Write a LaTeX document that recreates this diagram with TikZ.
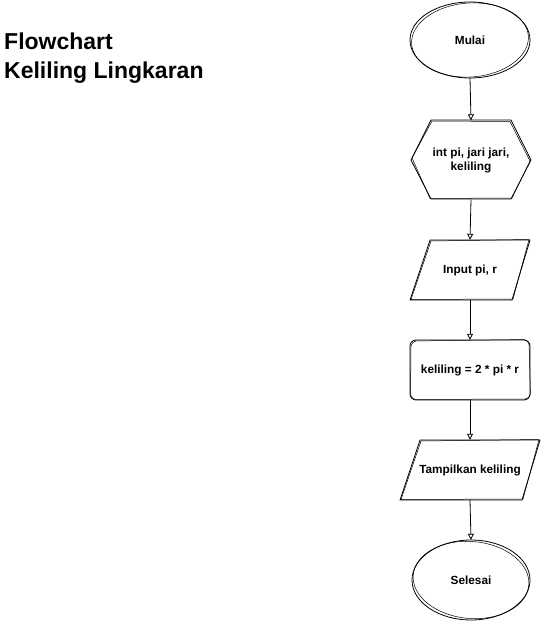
\documentclass[tikz,border=0pt]{standalone}
\usepackage{fontspec}
\setmainfont{Liberation Sans}
\usetikzlibrary{arrows.meta}
\begin{document}
\begin{tikzpicture}[x=1pt,y=-1pt,
  sk/.style={draw=black, line width=0.8pt, line join=round, line cap=round},
  sk2/.style={draw=black, line width=0.5pt, line join=round, line cap=round},
  lbl/.style={draw=none, inner sep=0pt, align=center, minimum width=120pt,
    font=\fontsize{11.8}{14}\selectfont\bfseries},
  arr/.style={draw=black, line width=0.8pt, -{Triangle[open, length=6pt, width=6pt]}},
  title/.style={anchor=north west, align=left, inner sep=0pt,
    font=\fontsize{23}{29}\selectfont\bfseries}
]
\useasboundingbox (0,0) rectangle (541,621);

% title
\node[title] (t) at (4,33) {Flowchart\\Keliling Lingkaran};

% nodes (text + anchors)
\node[lbl, minimum height=76pt] (mulai) at (470,40) {Mulai};
\node[lbl, minimum height=79pt] (decl) at (471,160) {int pi, jari jari,\\keliling};
\node[lbl, minimum height=60pt] (inp) at (470,270) {Input pi, r};
\node[lbl, minimum height=60pt] (proc) at (470,370) {keliling = 2 * pi * r};
\node[lbl, minimum height=60pt] (out) at (470,470) {Tampilkan keliling};
\node[lbl, minimum height=80pt] (selesai) at (471,580) {Selesai};

% sketchy shapes
\draw[sk] (mulai.center) ellipse [x radius=60pt, y radius=38pt];
\draw[sk2, rotate around={4:(mulai.center)}] (mulai.center) ellipse [x radius=58.5pt, y radius=37pt];

\draw[sk] (411,160) -- (431,120) -- (511,120) -- (531,160) -- (511,199) -- (431,199) -- cycle;
\draw[sk2] (412,158) -- (432,121) -- (510,121.5) -- (530,161) -- (512,198) -- (430,198.5) -- cycle;

\draw[sk] (430,240) -- (530,240) -- (512,300) -- (410,300) -- cycle;
\draw[sk2] (431,241) -- (529,239.5) -- (513,299) -- (411,299.5) -- cycle;

\draw[sk, rounded corners=6pt] (410,340) rectangle (530,400);
\draw[sk2, rounded corners=6pt] (411,341) -- (529,339.5) -- (530.5,399) -- (410.5,399.5) -- cycle;

\draw[sk] (420,440) -- (540,440) -- (522,500) -- (400,500) -- cycle;
\draw[sk2] (421,441) -- (539,439.5) -- (523,499) -- (401,499.5) -- cycle;

\draw[sk] (selesai.center) ellipse [x radius=59pt, y radius=40pt];
\draw[sk2, rotate around={-5:(selesai.center)}] (selesai.center) ellipse [x radius=58pt, y radius=38.5pt];

% connectors
\draw[arr] (mulai.south) -- (decl.north);
\draw[arr] (decl.south) -- (inp.north);
\draw[arr] (inp.south) -- (proc.north);
\draw[arr] (proc.south) -- (out.north);
\draw[arr] (out.south) -- (selesai.north);
\end{tikzpicture}
\end{document}
